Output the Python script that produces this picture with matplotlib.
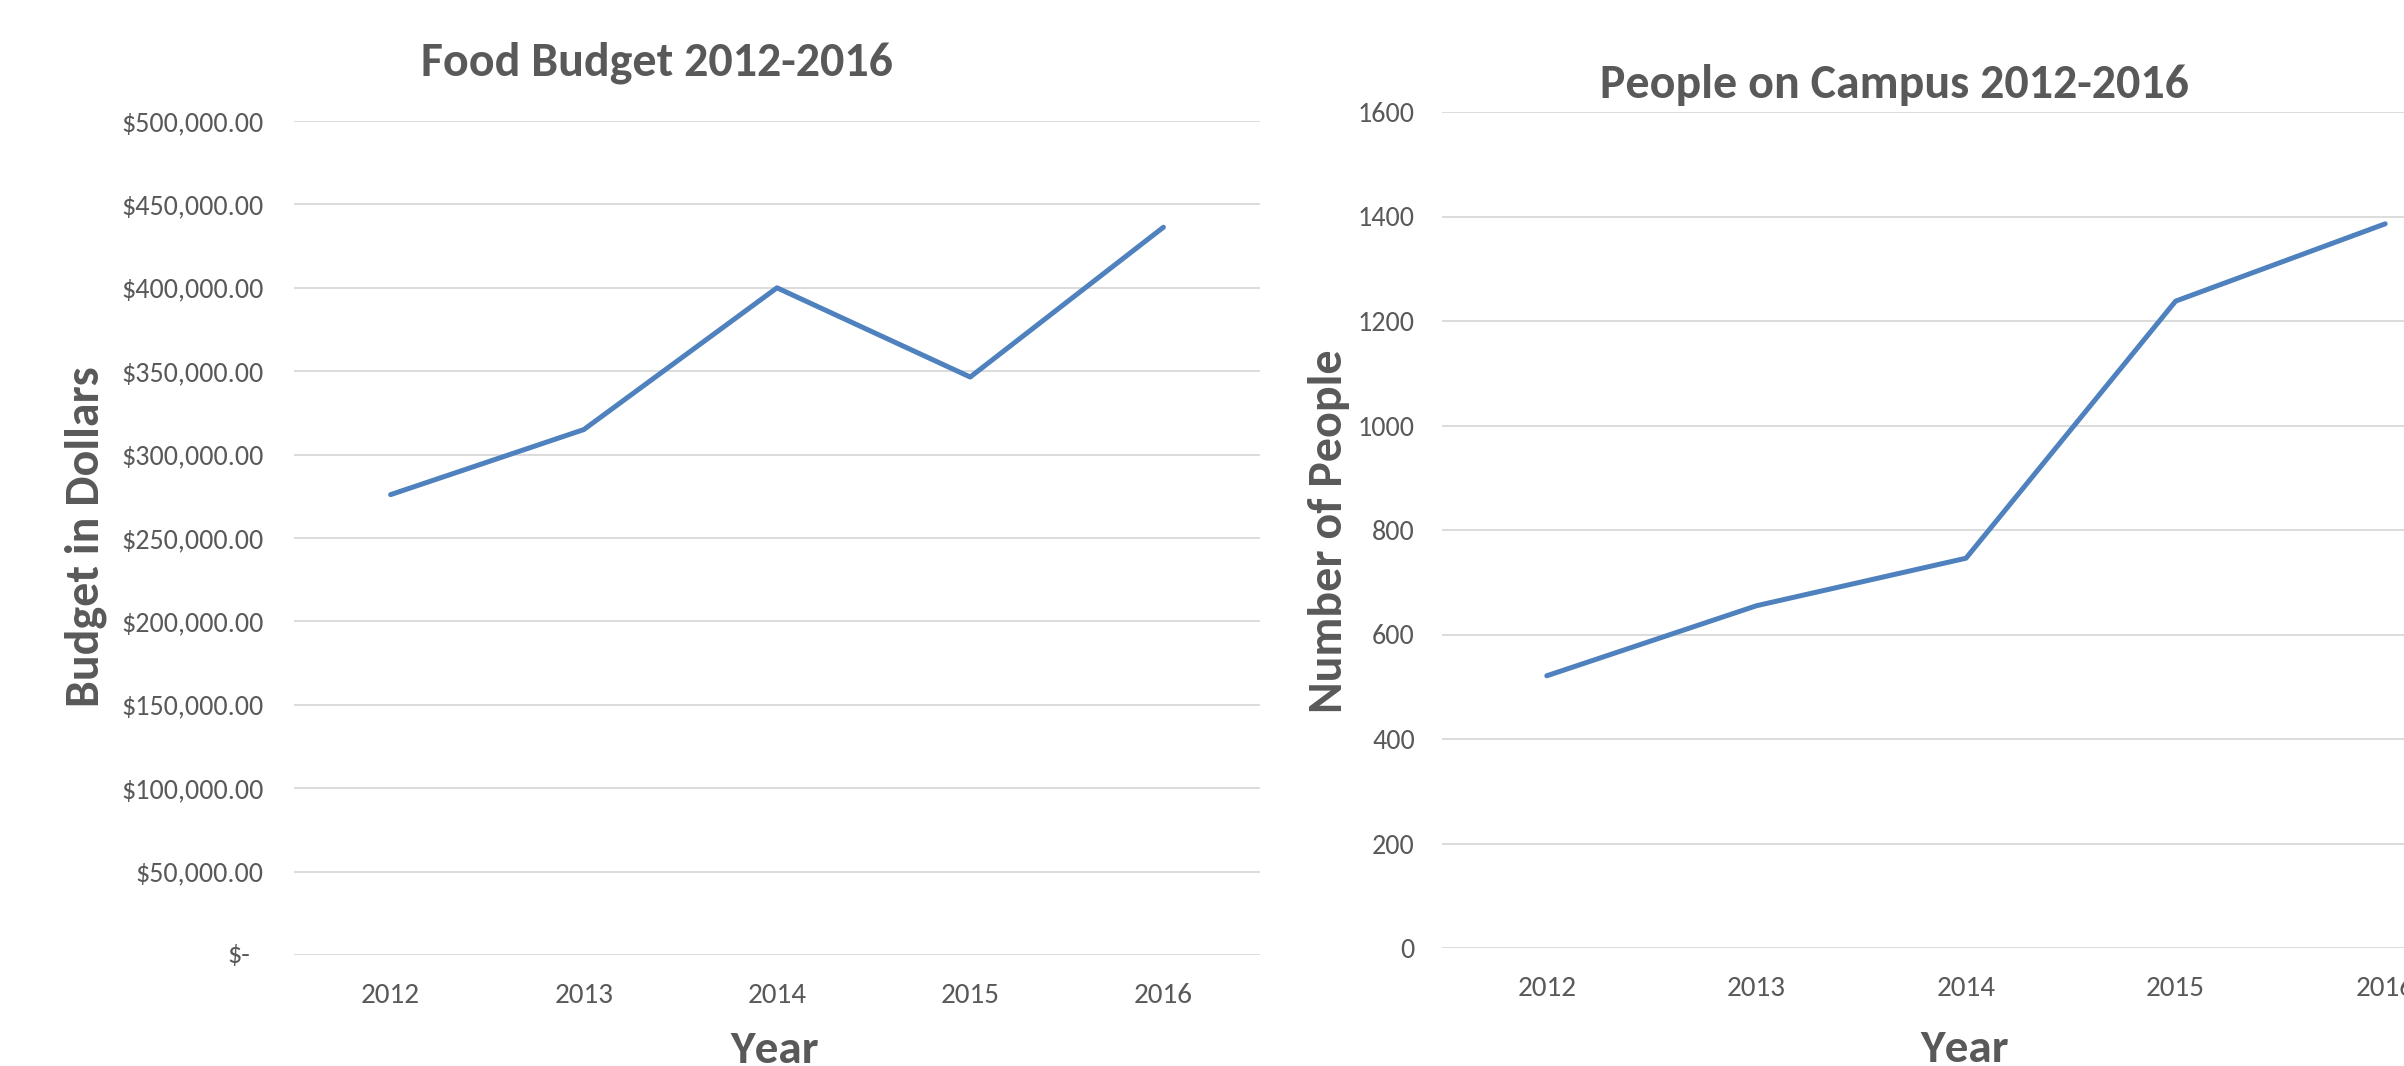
import matplotlib
matplotlib.use("Agg")
import matplotlib.pyplot as plt
from matplotlib import font_manager as fm

# ---------------- data ----------------
years = ["2012", "2013", "2014", "2015", "2016"]
budget = [276000, 315000, 400000, 346500, 436300]
people = [521, 655, 746, 1238, 1386]

budget_ticks = [0, 50000, 100000, 150000, 200000, 250000, 300000, 350000, 400000, 450000, 500000]
people_ticks = [0, 200, 400, 600, 800, 1000, 1200, 1400, 1600]

title_left = "Food Budget 2012-2016"
title_right = "People on Campus 2012-2016"
ylabel_left = "Budget in Dollars"
ylabel_right = "Number of People"
xlabel = "Year"

# ---------------- style ----------------
avail = {f.name for f in fm.fontManager.ttflist}
family = None
for cand in ["Carlito", "Lato", "Open Sans", "DejaVu Sans"]:
    if cand in avail:
        family = cand
        break
plt.rcParams["font.family"] = [family, "DejaVu Sans"]

TXT = "#595959"
GRID = "#D9D9D9"
LINE = "#4E81BD"
W, H = 2404, 1066
DPI = 100

fig = plt.figure(figsize=(W / DPI, H / DPI), dpi=DPI)
fig.patch.set_facecolor("white")

def px_axes(left, right, top, bottom):
    return fig.add_axes([left / W, 1 - bottom / H, (right - left) / W, (bottom - top) / H])

tick_fs = 20.2
xtick_fs = 21
title_fs = 34.5
label_fs = 34.5
year_fs = 34

def style(ax, ticks, ymax, pad_y):
    x = list(range(len(years)))
    ax.set_xlim(-0.5, len(years) - 0.5)
    ax.set_ylim(0, ymax)
    ax.set_yticks(ticks)
    ax.set_xticks(x)
    ax.set_xticklabels(years)
    ax.grid(axis="y", color=GRID, linewidth=1.3)
    ax.set_axisbelow(True)
    for s in ax.spines.values():
        s.set_visible(False)
    ax.tick_params(axis="both", length=0, labelcolor=TXT)
    ax.tick_params(axis="y", pad=pad_y, labelsize=tick_fs)
    ax.tick_params(axis="x", pad=20, labelsize=xtick_fs)
    ax.set_facecolor("none")

# Left chart
axL = px_axes(294, 1260, 121, 955)
style(axL, budget_ticks, 500000, 22)
axL.plot(range(len(years)), budget, color=LINE, linewidth=3.6,
         solid_capstyle="round", solid_joinstyle="round")

def money(v, pos=None):
    if v == 0:
        return ""
    return "${:,.2f}".format(v)

axL.set_yticklabels([money(v) for v in budget_ticks])
axL.annotate("$-", xy=(0, 0), xycoords=("axes fraction", "data"),
             xytext=(-44, 0), textcoords="offset pixels",
             ha="right", va="center", fontsize=tick_fs, color=TXT)

# Right chart (extends past the right edge of the figure)
axR = px_axes(1442, 2490, 112, 948)
style(axR, people_ticks, 1600, 19.5)
axR.plot(range(len(years)), people, color=LINE, linewidth=3.6,
         solid_capstyle="round", solid_joinstyle="round")
axR.set_yticklabels([str(v) for v in people_ticks])

# Titles and axis labels (figure pixel positions)
def ftext(x, y, s, **kw):
    fig.text(x / W, 1 - y / H, s, color=TXT, **kw)

ftext(657, 75, title_left, fontsize=title_fs, fontweight="bold", ha="center", va="baseline")
ftext(1894, 98, title_right, fontsize=title_fs, fontweight="bold", ha="center", va="baseline")
ftext(86, 537, ylabel_left, fontsize=label_fs, fontweight="bold", rotation=90, ha="center", va="center")
ftext(1329, 531, ylabel_right, fontsize=label_fs, fontweight="bold", rotation=90, ha="center", va="center")
ftext(775, 1063, xlabel, fontsize=year_fs, fontweight="bold", ha="center", va="baseline")
ftext(1965, 1062, xlabel, fontsize=year_fs, fontweight="bold", ha="center", va="baseline")

fig.savefig("out.png", dpi=DPI, facecolor="white")
